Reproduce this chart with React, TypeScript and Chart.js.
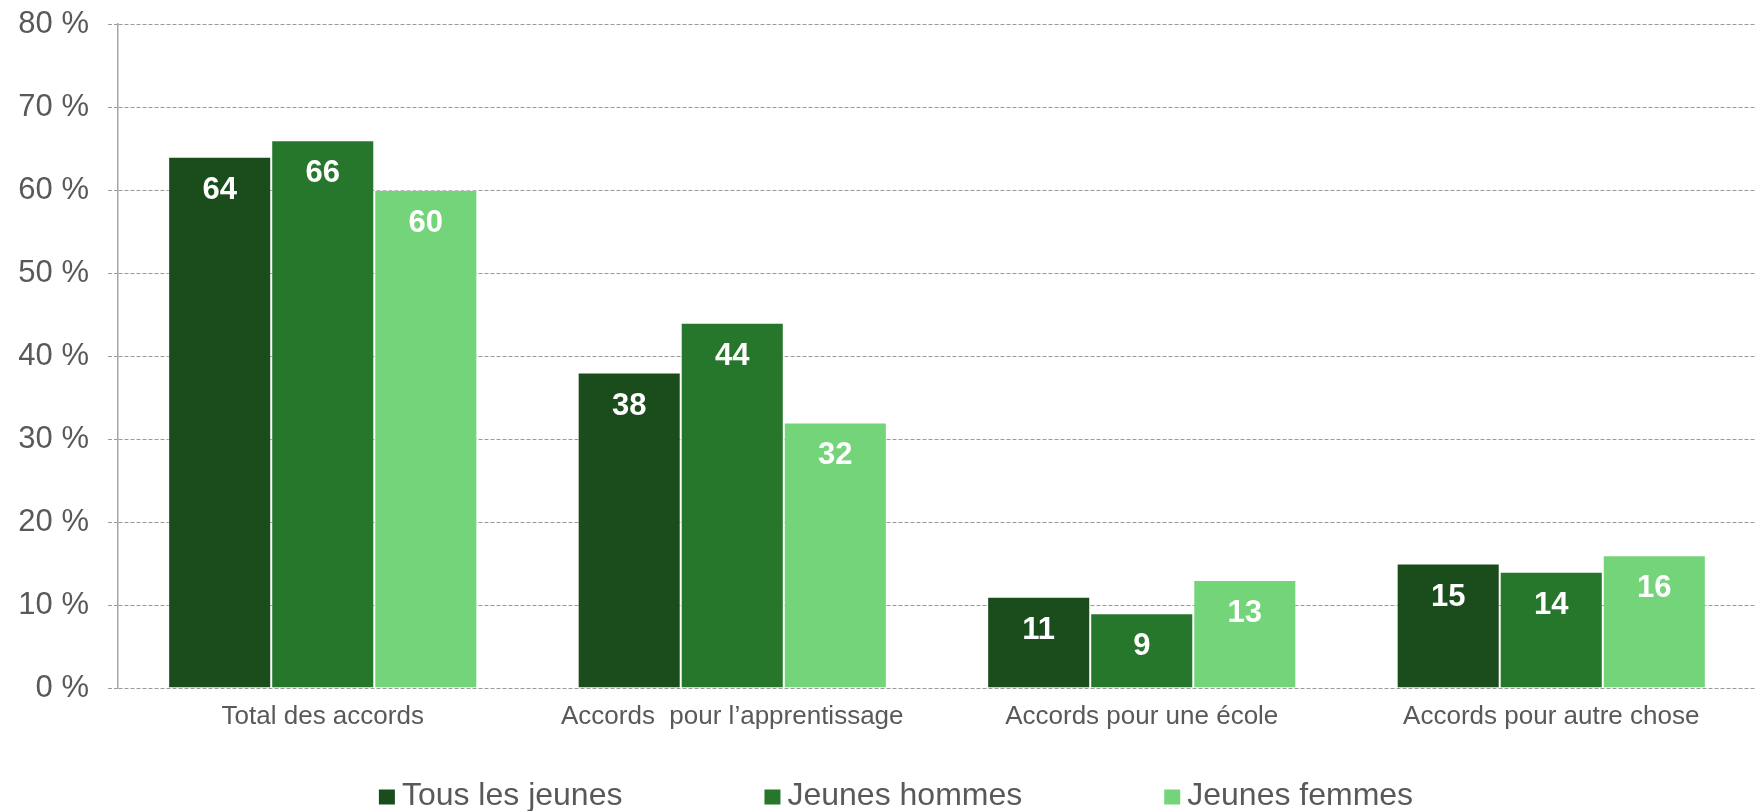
import React, { useEffect, useRef } from "react";
import { Chart, registerables } from "chart.js";

Chart.register(...registerables);

const categories = [
  "Total des accords",
  "Accords  pour l’apprentissage",
  "Accords pour une école",
  "Accords pour autre chose",
];
const seriesNames = ["Tous les jeunes", "Jeunes hommes", "Jeunes femmes"];
const tousLesJeunes = [64, 38, 11, 15];
const jeunesHommes = [66, 44, 9, 14];
const jeunesFemmes = [60, 32, 13, 16];
const seriesColors = ["#1B4D1C", "#26762B", "#74D47A"];
const yMin = 0;
const yMax = 80;
const yStep = 10;

const FONT = "'Liberation Sans', Arial, Helvetica, sans-serif";
const TEXT_COLOR = "#595959";

const valueLabels = {
  id: "valueLabels",
  afterDatasetsDraw(chart: any) {
    const ctx = chart.ctx;
    ctx.save();
    ctx.font = `bold 31px ${FONT}`;
    ctx.fillStyle = "#ffffff";
    ctx.textAlign = "center";
    ctx.textBaseline = "alphabetic";
    chart.data.datasets.forEach((ds: any, i: number) => {
      const meta = chart.getDatasetMeta(i);
      meta.data.forEach((el: any, j: number) => {
        ctx.fillText(String(ds.data[j]), el.x, el.y + 42);
      });
    });
    ctx.restore();
  },
};

const customLegend = {
  id: "customLegend",
  afterDraw(chart: any) {
    const ctx = chart.ctx;
    ctx.save();
    const fontSize = 32;
    ctx.font = `${fontSize}px ${FONT}`;
    const boxW = 16;
    const boxH = 15;
    const gap = 7;
    const spacing = 142;
    const items = chart.data.datasets.map((ds: any) => {
      const tw = ctx.measureText(ds.label).width;
      return { label: ds.label, color: ds.backgroundColor, tw, w: boxW + gap + tw };
    });
    const total = items.reduce((s: number, it: any) => s + it.w, 0) + spacing * (items.length - 1);
    const centerX = chart.width / 2 + 18;
    const cy = 797;
    let x = centerX - total / 2;
    items.forEach((it: any) => {
      ctx.fillStyle = it.color;
      ctx.fillRect(x, cy - boxH / 2, boxW, boxH);
      ctx.fillStyle = TEXT_COLOR;
      ctx.textAlign = "left";
      ctx.textBaseline = "alphabetic";
      ctx.fillText(it.label, x + boxW + gap, 805);
      x += it.w + spacing;
    });
    ctx.restore();
  },
};

export default function App() {
  const canvasRef = useRef<HTMLCanvasElement | null>(null);

  useEffect(() => {
    document.body.style.margin = "0";
    document.body.style.overflow = "hidden";
    const canvas = canvasRef.current;
    if (!canvas) return;
    const values = [tousLesJeunes, jeunesHommes, jeunesFemmes];
    const chart = new Chart(canvas, {
      type: "bar",
      data: {
        labels: categories,
        datasets: seriesNames.map((name, i) => ({
          label: name,
          data: values[i],
          backgroundColor: seriesColors[i],
          borderColor: "rgba(255,255,255,0.3)",
          borderWidth: 1,
          categoryPercentage: 0.755,
          barPercentage: 1.0,
        })),
      },
      options: {
        animation: false,
        responsive: true,
        maintainAspectRatio: false,
        layout: { padding: { top: 24, left: 0, right: 0, bottom: 0 } },
        plugins: {
          legend: { display: false },
          tooltip: { enabled: false },
        },
        scales: {
          x: {
            grid: { display: false },
            border: { display: false },
            ticks: {
              color: TEXT_COLOR,
              font: { family: FONT, size: 26, lineHeight: 1.2 },
              padding: 5,
              maxRotation: 0,
              autoSkip: false,
            },
            afterFit(scale: any) {
              scale.height = 123;
            },
          },
          y: {
            min: yMin,
            max: yMax,
            grid: {
              color: "#9a9a9a",
              lineWidth: 1,
              tickLength: 10,
              drawTicks: true,
              tickBorderDash: [4, 2],
            },
            border: { display: true, color: "#a6a6a6", width: 1.5, dash: [4, 2] },
            ticks: {
              stepSize: yStep,
              color: TEXT_COLOR,
              font: { family: FONT, size: 31, lineHeight: 1.2 },
              padding: 19,
              callback: (v: any) => `${v} %`,
            },
            afterFit(scale: any) {
              scale.width = 118;
              scale.paddingTop = 0;
              scale.paddingBottom = 0;
            },
          },
        },
      },
      plugins: [valueLabels, customLegend],
    });
    return () => chart.destroy();
  }, []);

  return (
    <div style={{ position: "relative", width: "1756px", height: "811px" }}>
      <canvas ref={canvasRef} />
    </div>
  );
}
